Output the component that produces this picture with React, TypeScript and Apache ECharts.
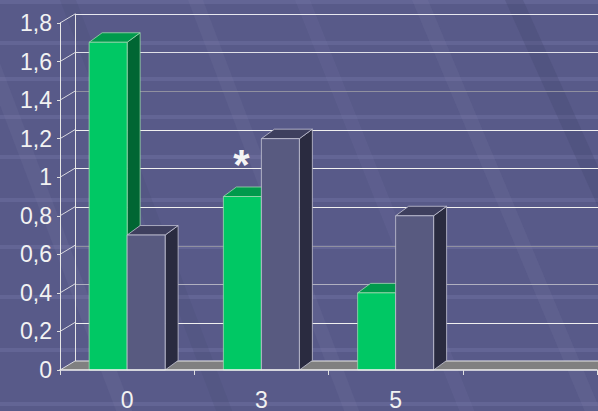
import React, { useEffect, useRef } from "react";
import * as echarts from "echarts";

const categories = ["0", "3", "5", ""];
const greenValues: (number | null)[] = [1.7, 0.9, 0.4, null];
const grayValues: (number | null)[] = [0.7, 1.2, 0.8, null];
const greenNotes = ["", "*", "", ""];
const yTicks = [0, 0.2, 0.4, 0.6, 0.8, 1, 1.2, 1.4, 1.6, 1.8];
const yMin = 0;
const yMax = 1.8;
const yStep = 0.2;

const FONT = "'Liberation Sans', Arial, sans-serif";
const BAR_DX = 13;
const BAR_DY = -9.5;
const WALL_DX = 15;
const WALL_DY = -9;

const GREEN = { front: "#00c864", top: "#009a4c", side: "#006633", edge: "#9fd8b0" };
const SLATE = { front: "#585a80", top: "#3e3f5e", side: "#2a2b40", edge: "#c4c4d4" };

function barRenderer(colors: typeof GREEN, side: number, notes?: string[]) {
  return (params: any, api: any) => {
    const cat = api.value(0);
    const val = api.value(1);
    const top = api.coord([cat, val]);
    const base = api.coord([cat, 0]);
    const band = api.size([1, 0])[0];
    const w = band * 0.283;
    const x0 = side < 0 ? top[0] - w : top[0];
    const x1 = x0 + w;
    const yT = top[1];
    const yB = base[1];
    const children: any[] = [
      {
        type: "polygon",
        shape: { points: [[x1, yT], [x1 + BAR_DX, yT + BAR_DY], [x1 + BAR_DX, yB + BAR_DY], [x1, yB]] },
        style: { fill: colors.side, stroke: colors.edge, lineWidth: 0.8 },
      },
      {
        type: "polygon",
        shape: { points: [[x0, yT], [x1, yT], [x1 + BAR_DX, yT + BAR_DY], [x0 + BAR_DX, yT + BAR_DY]] },
        style: { fill: colors.top, stroke: colors.edge, lineWidth: 0.8 },
      },
      {
        type: "rect",
        shape: { x: x0, y: yT, width: w, height: yB - yT },
        style: { fill: colors.front, stroke: colors.edge, lineWidth: 0.8 },
      },
    ];
    const note = notes ? notes[params.dataIndex] : "";
    if (note) {
      children.push({
        type: "text",
        x: (x0 + x1) / 2 - 1,
        y: yT - 53,
        style: { text: note, fill: "#f4f4f4", font: `bold 42px ${FONT}`, align: "center", verticalAlign: "top" },
      });
    }
    return { type: "group", children };
  };
}

function wallRenderer(params: any, api: any) {
  const cs = params.coordSys;
  const x = cs.x;
  const xr = cs.x + cs.width;
  const yB = api.coord([0, 0])[1];
  const children: any[] = [
    {
      type: "polygon",
      shape: { points: [[x, yB], [xr, yB], [xr + WALL_DX, yB + WALL_DY], [x + WALL_DX, yB + WALL_DY]] },
      style: { fill: "#808080" },
    },
    {
      type: "line",
      shape: { x1: x + WALL_DX, y1: yB + WALL_DY, x2: xr + WALL_DX, y2: yB + WALL_DY },
      style: { stroke: "#e6e6e6", lineWidth: 1 },
    },
  ];
  yTicks.forEach((t) => {
    const y = api.coord([0, t])[1];
    children.push({
      type: "line",
      shape: { x1: x, y1: y, x2: x + WALL_DX, y2: y + WALL_DY },
      style: { stroke: "#d8d8e0", lineWidth: 1 },
    });
  });
  return { type: "group", children };
}

function backgroundGraphics() {
  const els: any[] = [];
  const bands = [2, 43, 79, 117, 157, 200, 247, 297, 350, 404];
  bands.forEach((y) => {
    els.push({
      type: "rect",
      z: -10,
      silent: true,
      shape: { x: 0, y: y - 2, width: 598, height: 4 },
      style: { fill: "rgba(140,142,190,0.22)" },
    });
  });
  const stripes: [number, number, number, string][] = [
    [-40, 0.38, 16, "rgba(140,142,185,0.12)"],
    [188, 0.38, 15, "rgba(140,142,185,0.12)"],
    [295, 0.4, 15, "rgba(140,142,185,0.1)"],
    [412, 0.42, 16, "rgba(140,142,185,0.12)"],
    [505, 0.45, 18, "rgba(60,62,100,0.22)"],
    [60, 0.38, 16, "rgba(60,62,100,0.12)"],
  ];
  stripes.forEach(([x, s, w, c]) => {
    els.push({
      type: "polygon",
      z: -10,
      silent: true,
      shape: { points: [[x, 0], [x + w, 0], [x + w + s * 411, 411], [x + s * 411, 411]] },
      style: { fill: c },
    });
  });
  return els;
}

export default function App() {
  const ref = useRef<HTMLDivElement>(null);
  useEffect(() => {
    document.body.style.margin = "0";
    const chart = echarts.init(ref.current!, undefined, { renderer: "svg" });
    const splitColors = ["#f0f0f0", "#f0f0f0", "#b0b0c0", "#9090a0", "#f0f0f0", "#f0f0f0", "#f0f0f0", "#9090a0", "#e0e0e8", "#e8e8f0"];
    chart.setOption({
      animation: false,
      backgroundColor: "#585a89",
      graphic: { elements: backgroundGraphics() },
      grid: [
        { left: 60 + WALL_DX, top: 23 + WALL_DY, width: 537, height: 348 },
        { left: 60, top: 23, width: 537, height: 348 },
      ],
      xAxis: [
        { type: "category", gridIndex: 0, data: categories, show: false },
        {
          type: "category",
          gridIndex: 1,
          data: categories,
          z: 5,
          axisLine: { lineStyle: { color: "#f0f0f0", width: 1.5 } },
          axisTick: { show: true, length: 5, lineStyle: { color: "#e0e0e0" } },
          axisLabel: { color: "#f2f2f2", fontSize: 23, fontFamily: FONT, margin: 18 },
          splitLine: { show: false },
        },
      ],
      yAxis: [
        {
          type: "value",
          gridIndex: 0,
          min: yMin,
          max: yMax,
          interval: yStep,
          axisLabel: { show: false },
          axisTick: { show: false },
          axisLine: { show: true, lineStyle: { color: "#e6e6e6", width: 1 } },
          splitLine: { show: true, lineStyle: { color: splitColors, width: 1 } },
        },
        {
          type: "value",
          gridIndex: 1,
          min: yMin,
          max: yMax,
          interval: yStep,
          z: 5,
          axisLine: { show: true, lineStyle: { color: "#e6e6e6", width: 1 } },
          axisTick: { show: true, length: 3, lineStyle: { color: "#e0e0e0" } },
          axisLabel: {
            color: "#f2f2f2",
            fontSize: 23,
            fontFamily: FONT,
            margin: 8,
            padding: [9, 0, 0, 0],
            formatter: (v: number) => String(+v.toFixed(1)).replace(".", ","),
          },
          splitLine: { show: false },
        },
      ],
      series: [
        {
          type: "custom",
          xAxisIndex: 1,
          yAxisIndex: 1,
          z: 1,
          silent: true,
          data: [[0, 0]],
          renderItem: wallRenderer,
        },
        {
          type: "custom",
          name: "green",
          xAxisIndex: 1,
          yAxisIndex: 1,
          z: 2,
          data: greenValues.map((v, i) => [i, v]).filter((d) => d[1] !== null),
          renderItem: barRenderer(GREEN, -1, greenNotes),
        },
        {
          type: "custom",
          name: "slate",
          xAxisIndex: 1,
          yAxisIndex: 1,
          z: 3,
          data: grayValues.map((v, i) => [i, v]).filter((d) => d[1] !== null),
          renderItem: barRenderer(SLATE, 1),
        },
      ],
    });
    return () => chart.dispose();
  }, []);
  return <div ref={ref} style={{ width: 598, height: 411, position: "absolute", left: 0, top: 0 }} />;
}
